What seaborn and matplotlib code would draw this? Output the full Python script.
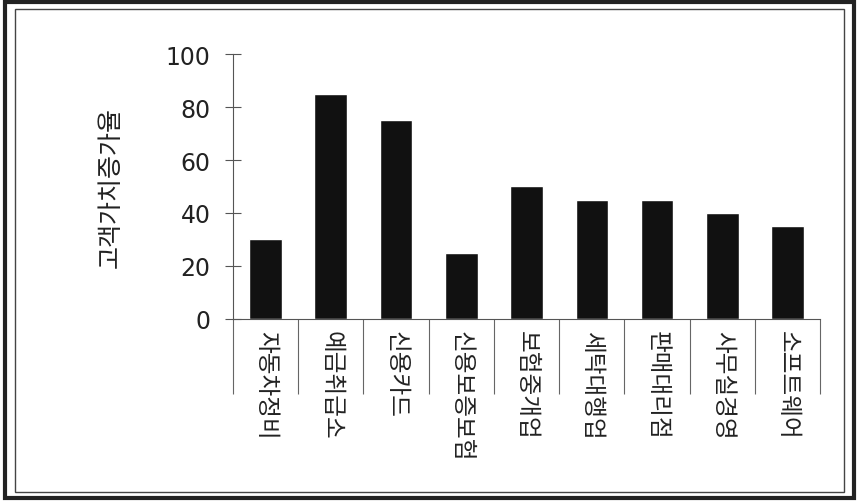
import matplotlib
matplotlib.use("Agg")
import matplotlib.pyplot as plt
import seaborn as sns
import pandas as pd
import numpy as np
from matplotlib.patches import Rectangle

categories = ['자동차정비', '예금취급소', '신용카드', '신용보증보험', '보험중개업',
              '세탁대행업', '판매대리점', '사무실경영', '소프트웨어']
values = [30, 85, 75, 25, 50, 45, 45, 40, 35]
y_label = '고객가치증가율'
y_ticks = [0, 20, 40, 60, 80, 100]

sns.set_style('white', {'xtick.bottom': True, 'ytick.left': True})
plt.rcParams['font.family'] = ['Noto Sans CJK KR', 'DejaVu Sans']

df = pd.DataFrame({'cat': categories, 'val': values})

fig = plt.figure(figsize=(8.59, 5.02), dpi=100)
ax = fig.add_axes([0.271, 0.363, 0.684, 0.527])

sns.barplot(data=df, x='cat', y='val', color='#111111', width=0.5,
            saturation=1, ax=ax)

ax.set_ylim(0, 100)
ax.set_xlim(-0.5, len(categories) - 0.5)
ax.set_yticks(y_ticks)
ax.set_yticklabels([str(t) for t in y_ticks], fontsize=17, family='DejaVu Sans',
                   color='#222222')
ax.tick_params(axis='y', direction='inout', length=12, width=0.8, color='#555555', pad=10)

ax.set_xticks(range(len(categories)))
ax.set_xticklabels(categories, rotation=270, fontsize=17, va='top', ha='center',
                   color='#222222')
ax.tick_params(axis='x', which='major', length=0, pad=8)
ax.set_xticks(np.arange(-0.5, len(categories)), minor=True)
ax.tick_params(axis='x', which='minor', bottom=True, direction='out', length=54,
               width=0.8, color='#666666')

ax.set_xlabel('')
ax.set_ylabel(y_label, fontsize=18, labelpad=30, color='#222222')

for s in ['top', 'right']:
    ax.spines[s].set_visible(False)
ax.spines['left'].set_color('#555555')
ax.spines['left'].set_linewidth(0.8)
ax.spines['bottom'].set_color('#555555')
ax.spines['bottom'].set_linewidth(0.8)

# double frame around the figure
fig.patches.append(Rectangle((0.006, 0.006), 0.988, 0.988, transform=fig.transFigure,
                             fill=False, lw=3, edgecolor='#222222'))
fig.patches.append(Rectangle((0.017, 0.018), 0.966, 0.962, transform=fig.transFigure,
                             fill=False, lw=1, edgecolor='#444444'))

fig.savefig('out.png', dpi=100)
